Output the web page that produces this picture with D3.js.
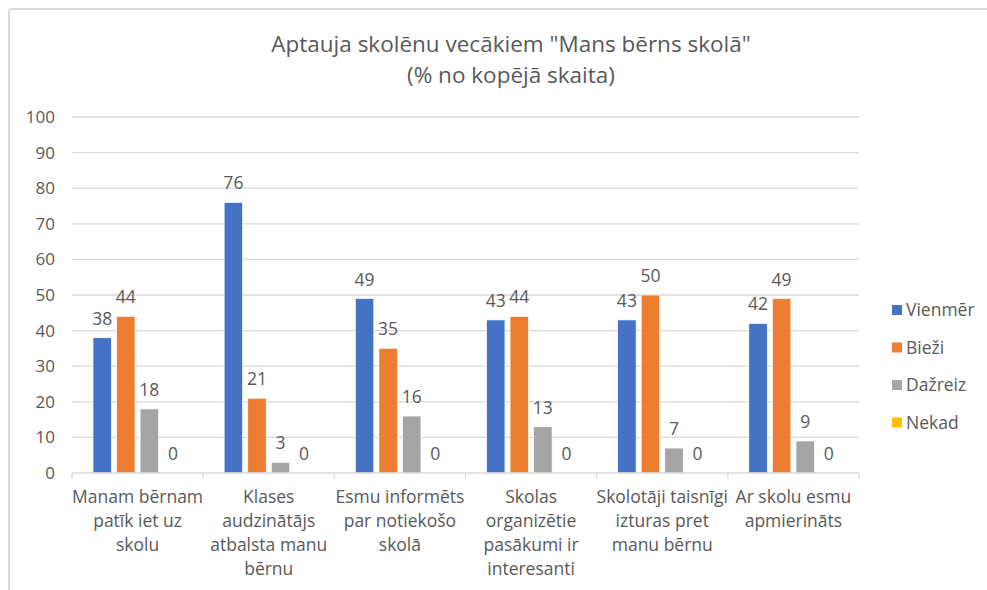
<!DOCTYPE html>
<html>
<head>
<meta charset="utf-8">
<script src="https://cdn.jsdelivr.net/npm/d3@7"></script>
<style>
  body { margin: 0; background: #fff; }
  text { font-family: "Open Sans", "Noto Sans", sans-serif; fill: #595959; }
</style>
</head>
<body>
<div id="chart-area"></div>
<script>
const categories = [
  ["Manam bērnam", "patīk iet uz", "skolu"],
  ["Klases", "audzinātājs", "atbalsta manu", "bērnu"],
  ["Esmu informēts", "par notiekošo", "skolā"],
  ["Skolas", "organizētie", "pasākumi ir", "interesanti"],
  ["Skolotāji taisnīgi", "izturas pret", "manu bērnu"],
  ["Ar skolu esmu", "apmierināts"]
]
const seriesNames = ["Vienmēr", "Bieži", "Dažreiz", "Nekad"]
const vienmer = [38, 76, 49, 43, 43, 42]
const biezi = [44, 21, 35, 44, 50, 49]
const dazreiz = [18, 3, 16, 13, 7, 9]
const nekad = [0, 0, 0, 0, 0, 0]
const yTicks = [0, 10, 20, 30, 40, 50, 60, 70, 80, 90, 100]
const colors = ["#4472C4", "#ED7D31", "#A5A5A5", "#FFC000"]

const seriesValues = [vienmer, biezi, dazreiz, nekad]

const W = 987, H = 590
const MARGIN = { LEFT: 72, RIGHT: 128, TOP: 117, BOTTOM: 117 }
const WIDTH = W - MARGIN.LEFT - MARGIN.RIGHT
const HEIGHT = H - MARGIN.TOP - MARGIN.BOTTOM

const svg = d3.select("#chart-area").append("svg")
  .attr("width", W)
  .attr("height", H)

// chart frame
svg.append("rect")
  .attr("x", 9).attr("y", 9)
  .attr("width", W + 20).attr("height", H + 20)
  .attr("rx", 3)
  .attr("fill", "#fff")
  .attr("stroke", "#d9d9d9")
  .attr("stroke-width", 2)

// Title
const title = svg.append("text")
  .attr("x", 511)
  .attr("text-anchor", "middle")
  .style("font-size", "22.5px")
title.append("tspan").attr("x", 511).attr("y", 52).text('Aptauja skolēnu vecākiem "Mans bērns skolā"')
title.append("tspan").attr("x", 511).attr("y", 83).text("(% no kopējā skaita)")

const g = svg.append("g")
  .attr("transform", `translate(${MARGIN.LEFT}, ${MARGIN.TOP})`)

const x0 = d3.scaleBand()
  .domain(d3.range(categories.length))
  .range([0, WIDTH])

const x1 = d3.scaleBand()
  .domain(seriesNames)
  .range([0, x0.bandwidth()])
  .paddingInner(0.216)
  .paddingOuter(0.89)

const y = d3.scaleLinear()
  .domain([0, 100])
  .range([HEIGHT, 0])

// gridlines
g.append("g")
  .selectAll("line")
  .data(yTicks.filter(d => d > 0))
  .enter().append("line")
    .attr("x1", 0).attr("x2", WIDTH)
    .attr("y1", d => y(d)).attr("y2", d => y(d))
    .attr("stroke", "#d9d9d9")
    .attr("stroke-width", 1.3)

// Y axis
const yAxisCall = d3.axisLeft(y)
  .tickValues(yTicks)
  .tickSize(0)
  .tickPadding(17)
const yAxisGroup = g.append("g").call(yAxisCall)
yAxisGroup.select(".domain").remove()
yAxisGroup.selectAll("text")
  .style("font-size", "17px")
  .style("font-family", null)
  .attr("fill", "#595959")
yAxisGroup.attr("font-family", null)

// bars
const groups = g.selectAll("g.cat")
  .data(categories.map((c, i) => i))
  .enter().append("g")
    .attr("class", "cat")
    .attr("transform", i => `translate(${x0(i)}, 0)`)

groups.selectAll("rect")
  .data(i => seriesNames.map((s, k) => ({ s, k, v: seriesValues[k][i] })))
  .enter().append("rect")
    .attr("x", d => x1(d.s))
    .attr("width", x1.bandwidth())
    .attr("y", d => y(d.v))
    .attr("height", d => HEIGHT - y(d.v))
    .attr("fill", d => colors[d.k])
    .attr("stroke", "#fff")
    .attr("stroke-width", 0.7)

groups.selectAll("text.lbl")
  .data(i => seriesNames.map((s, k) => ({ s, k, v: seriesValues[k][i] })))
  .enter().append("text")
    .attr("class", "lbl")
    .attr("x", d => x1(d.s) + x1.bandwidth() / 2)
    .attr("y", d => y(d.v) - 13)
    .attr("text-anchor", "middle")
    .style("font-size", "17.5px")
    .text(d => d.v)

// X axis
const xAxisGroup = g.append("g")
  .attr("transform", `translate(0, ${HEIGHT})`)
xAxisGroup.append("line")
  .attr("x1", 0).attr("x2", WIDTH)
  .attr("stroke", "#d9d9d9").attr("stroke-width", 1.3)
xAxisGroup.selectAll("line.tick")
  .data(d3.range(categories.length + 1))
  .enter().append("line")
    .attr("class", "tick")
    .attr("x1", i => i * x0.step()).attr("x2", i => i * x0.step())
    .attr("y1", 0).attr("y2", 6)
    .attr("stroke", "#d9d9d9").attr("stroke-width", 1.3)

const xl = xAxisGroup.selectAll("text.cat")
  .data(categories)
  .enter().append("text")
    .attr("class", "cat")
    .attr("text-anchor", "middle")
    .style("font-size", "17.5px")
xl.each(function (lines, i) {
  d3.select(this).selectAll("tspan")
    .data(lines)
    .enter().append("tspan")
      .attr("x", x0(i) + x0.bandwidth() / 2)
      .attr("y", (d, j) => 30 + j * 24)
      .text(d => d)
})

// Legend
const legend = svg.append("g")
  .attr("transform", "translate(892, 310)")
seriesNames.forEach((s, k) => {
  const row = legend.append("g").attr("transform", `translate(0, ${k * 37.5})`)
  row.append("rect")
    .attr("x", 0).attr("y", -5)
    .attr("width", 10).attr("height", 10)
    .attr("fill", colors[k])
  row.append("text")
    .attr("x", 14).attr("y", 6)
    .style("font-size", "17.5px")
    .text(s)
})
</script>
</body>
</html>
